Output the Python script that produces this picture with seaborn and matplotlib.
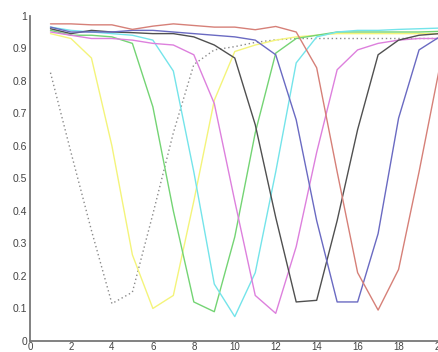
import numpy as np
import pandas as pd
import matplotlib
matplotlib.use('Agg')
import matplotlib.pyplot as plt
import seaborn as sns

sns.set_style('white')
plt.rcParams['font.family'] = ['Liberation Sans', 'DejaVu Sans']

x = list(range(1, 21))

gray_dotted = [0.825, 0.58, 0.34, 0.115, 0.15, 0.39, 0.64, 0.85, 0.895, 0.905,
               0.918, 0.926, 0.93, 0.93, 0.93, 0.93, 0.93, 0.93, 0.93, 0.93]
yellow = [0.945, 0.93, 0.87, 0.60, 0.265, 0.10, 0.14, 0.43, 0.74, 0.89,
          0.91, 0.925, 0.935, 0.94, 0.945, 0.945, 0.945, 0.945, 0.945, 0.945]
green = [0.955, 0.94, 0.94, 0.935, 0.915, 0.72, 0.40, 0.12, 0.09, 0.32,
         0.64, 0.885, 0.93, 0.94, 0.95, 0.95, 0.95, 0.95, 0.95, 0.952]
cyan = [0.965, 0.955, 0.95, 0.945, 0.94, 0.925, 0.83, 0.52, 0.175, 0.075,
        0.21, 0.52, 0.855, 0.935, 0.95, 0.955, 0.955, 0.958, 0.96, 0.962]
magenta = [0.95, 0.94, 0.93, 0.93, 0.925, 0.915, 0.91, 0.88, 0.73, 0.43,
           0.14, 0.085, 0.29, 0.58, 0.834, 0.895, 0.915, 0.925, 0.93, 0.93]
black = [0.96, 0.945, 0.955, 0.95, 0.948, 0.945, 0.945, 0.935, 0.91, 0.87,
         0.665, 0.38, 0.12, 0.125, 0.37, 0.65, 0.88, 0.925, 0.94, 0.945]
blue = [0.965, 0.95, 0.95, 0.95, 0.955, 0.955, 0.95, 0.945, 0.94, 0.935,
        0.925, 0.88, 0.68, 0.37, 0.12, 0.12, 0.33, 0.685, 0.895, 0.935]
red = [0.975, 0.975, 0.972, 0.972, 0.958, 0.968, 0.975, 0.97, 0.965, 0.965,
       0.957, 0.967, 0.95, 0.84, 0.52, 0.21, 0.095, 0.22, 0.52, 0.84]

series = [
    ('gray', gray_dotted, '#8a8a8a', (0, (1, 2))),
    ('yellow', yellow, '#f4f47a', '-'),
    ('green', green, '#74d474', '-'),
    ('cyan', cyan, '#74e4ea', '-'),
    ('magenta', magenta, '#dd80dd', '-'),
    ('black', black, '#505050', '-'),
    ('blue', blue, '#6a6ac2', '-'),
    ('red', red, '#d68078', '-'),
]

fig = plt.figure(figsize=(4.38, 3.52), dpi=100)
ax = fig.add_axes([0.0685, 0.0313, 0.935, 0.924])

for name, vals, col, ls in series:
    sns.lineplot(x=x, y=vals, color=col, linestyle=ls, linewidth=1.0, ax=ax)

ax.set_xlim(0, 20)
ax.set_ylim(0, 1)
ax.set_xticks(np.arange(0, 21, 2))
ax.set_yticks(np.arange(0, 1.01, 0.1))
ax.set_yticklabels(['0'] + [f'{v:.1f}' for v in np.arange(0.1, 0.95, 0.1)] + ['1'])
ax.tick_params(direction='in', length=4, width=1, colors='#666666',
               labelsize=7.5, labelcolor='#444444', pad=2)
ax.tick_params(axis='x', labelsize=7, pad=1)
for s in ['top', 'right']:
    ax.spines[s].set_visible(False)
for s in ['left', 'bottom']:
    ax.spines[s].set_color('#777777')
    ax.spines[s].set_linewidth(1.3)

fig.savefig('out.png', dpi=100)
